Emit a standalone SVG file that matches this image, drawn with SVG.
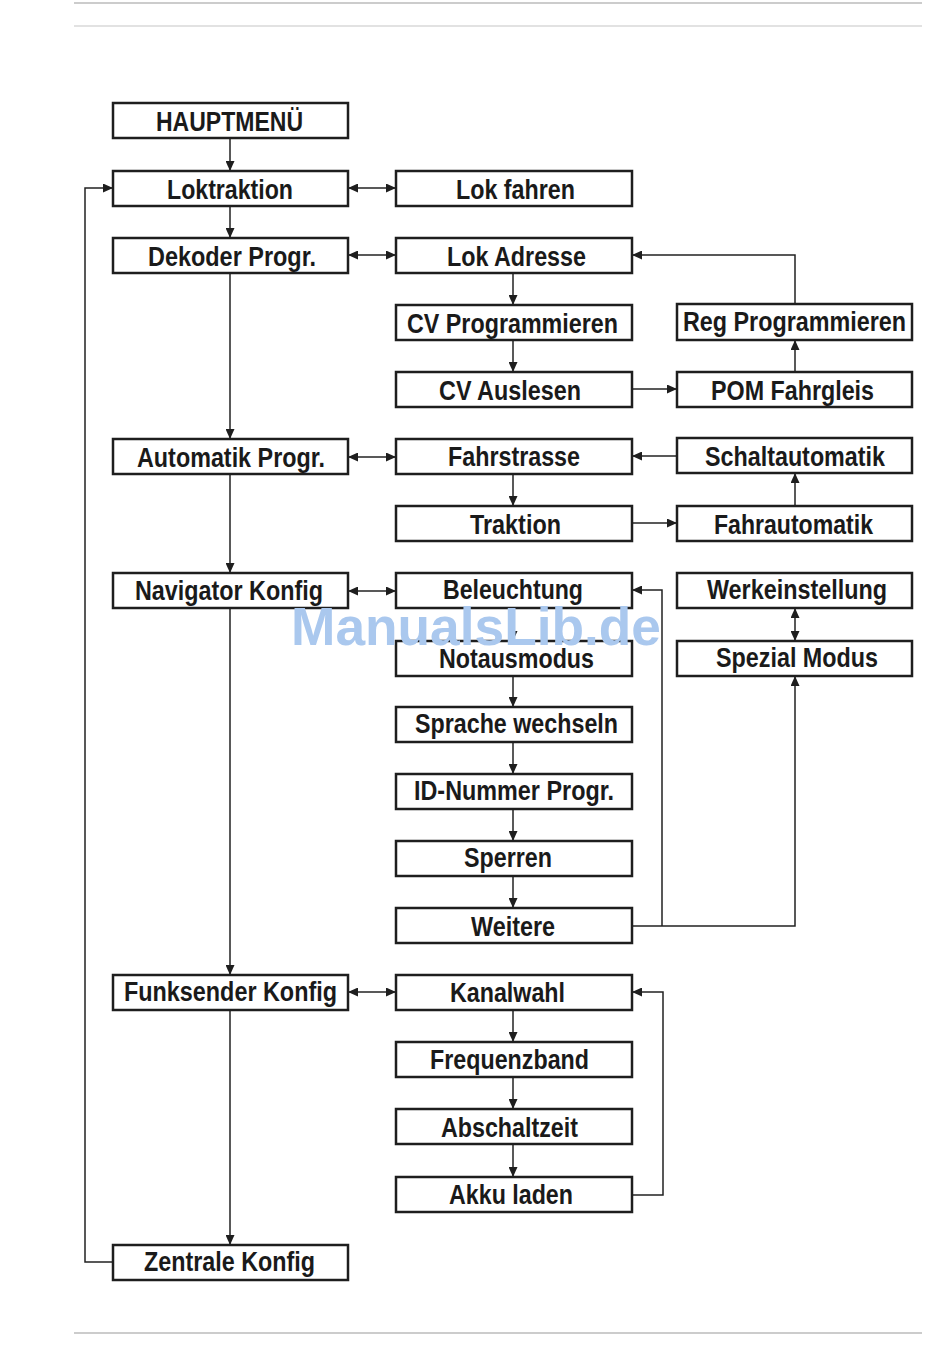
<svg xmlns="http://www.w3.org/2000/svg" width="950" height="1360" viewBox="0 0 950 1360">
<style>
.box{fill:#fff;stroke:#1e1e1e;stroke-width:2.5}
.lbl{font-family:"Liberation Sans",Arial,sans-serif;font-weight:bold;font-size:27px;fill:#1a1a1a}
.con{fill:none;stroke:#222;stroke-width:1.5}
.wm{font-family:"Liberation Sans",Arial,sans-serif;font-weight:bold;font-size:53px;fill:#aac8ee}
</style>
<defs>
<marker id="ah" markerUnits="userSpaceOnUse" markerWidth="10" markerHeight="9" refX="10" refY="4.5" orient="auto-start-reverse">
<path d="M0,0 L10,4.5 L0,9 z" fill="#1e1e1e"/>
</marker>
</defs>
<rect width="950" height="1360" fill="#fff"/>
<line x1="74" y1="3" x2="922" y2="3" stroke="#999" stroke-width="1.2"/>
<line x1="74" y1="26" x2="922" y2="26" stroke="#d9d9d9" stroke-width="1.5"/>
<line x1="74" y1="1333" x2="922" y2="1333" stroke="#999" stroke-width="1.2"/>

<g id="connectors">
<path class="con" marker-end="url(#ah)" d="M230,138 V171"/>
<path class="con" marker-end="url(#ah)" d="M230,206 V238"/>
<path class="con" marker-end="url(#ah)" d="M230,273 V439"/>
<path class="con" marker-end="url(#ah)" d="M230,474 V573"/>
<path class="con" marker-end="url(#ah)" d="M230,608 V975"/>
<path class="con" marker-end="url(#ah)" d="M230,1010 V1245"/>
<path class="con" marker-end="url(#ah)" d="M113,1262 H85 V188 H113"/>
<path class="con" marker-start="url(#ah)" marker-end="url(#ah)" d="M348,188 H396"/>
<path class="con" marker-start="url(#ah)" marker-end="url(#ah)" d="M348,255 H396"/>
<path class="con" marker-start="url(#ah)" marker-end="url(#ah)" d="M348,457 H396"/>
<path class="con" marker-start="url(#ah)" marker-end="url(#ah)" d="M348,591 H396"/>
<path class="con" marker-start="url(#ah)" marker-end="url(#ah)" d="M348,992 H396"/>
<path class="con" marker-end="url(#ah)" d="M513,273 V305"/>
<path class="con" marker-end="url(#ah)" d="M513,340 V372"/>
<path class="con" marker-end="url(#ah)" d="M632,389 H677"/>
<path class="con" marker-end="url(#ah)" d="M795,372 V340"/>
<path class="con" marker-end="url(#ah)" d="M795,304 V255 H632"/>
<path class="con" marker-end="url(#ah)" d="M513,474 V506"/>
<path class="con" marker-end="url(#ah)" d="M632,523 H677"/>
<path class="con" marker-end="url(#ah)" d="M795,506 V473"/>
<path class="con" marker-end="url(#ah)" d="M677,456 H632"/>
<path class="con" marker-end="url(#ah)" d="M513,608 V641"/>
<path class="con" marker-end="url(#ah)" d="M513,676 V707"/>
<path class="con" marker-end="url(#ah)" d="M513,742 V774"/>
<path class="con" marker-end="url(#ah)" d="M513,809 V841"/>
<path class="con" marker-end="url(#ah)" d="M513,876 V908"/>
<path class="con" marker-end="url(#ah)" d="M632,926 H795 V676"/>
<path class="con" marker-end="url(#ah)" d="M662,926 V590 H632"/>
<path class="con" marker-start="url(#ah)" marker-end="url(#ah)" d="M795,608 V641"/>
<path class="con" marker-end="url(#ah)" d="M513,1010 V1042"/>
<path class="con" marker-end="url(#ah)" d="M513,1077 V1109"/>
<path class="con" marker-end="url(#ah)" d="M513,1144 V1177"/>
<path class="con" marker-end="url(#ah)" d="M632,1195 H663 V992 H632"/>
</g>

<g id="hauptmenu"><rect class="box" x="113" y="103" width="235" height="35"/><text class="lbl" x="156" y="131" textLength="147" lengthAdjust="spacingAndGlyphs">HAUPTMENÜ</text></g>
<g id="loktraktion"><rect class="box" x="113" y="171" width="235" height="35"/><text class="lbl" x="167" y="199" textLength="126" lengthAdjust="spacingAndGlyphs">Loktraktion</text></g>
<g id="lok-fahren"><rect class="box" x="396" y="171" width="236" height="35"/><text class="lbl" x="456" y="199" textLength="119" lengthAdjust="spacingAndGlyphs">Lok fahren</text></g>
<g id="dekoder-progr"><rect class="box" x="113" y="238" width="235" height="35"/><text class="lbl" x="148" y="266" textLength="168" lengthAdjust="spacingAndGlyphs">Dekoder Progr.</text></g>
<g id="lok-adresse"><rect class="box" x="396" y="238" width="236" height="35"/><text class="lbl" x="447" y="266" textLength="139" lengthAdjust="spacingAndGlyphs">Lok Adresse</text></g>
<g id="cv-programmieren"><rect class="box" x="396" y="305" width="236" height="35"/><text class="lbl" x="407" y="333" textLength="211" lengthAdjust="spacingAndGlyphs">CV Programmieren</text></g>
<g id="reg-programmieren"><rect class="box" x="677" y="304" width="235" height="36"/><text class="lbl" x="683" y="331" textLength="223" lengthAdjust="spacingAndGlyphs">Reg Programmieren</text></g>
<g id="cv-auslesen"><rect class="box" x="396" y="372" width="236" height="35"/><text class="lbl" x="439" y="400" textLength="142" lengthAdjust="spacingAndGlyphs">CV Auslesen</text></g>
<g id="pom-fahrgleis"><rect class="box" x="677" y="372" width="235" height="35"/><text class="lbl" x="711" y="400" textLength="163" lengthAdjust="spacingAndGlyphs">POM Fahrgleis</text></g>
<g id="automatik-progr"><rect class="box" x="113" y="439" width="235" height="35"/><text class="lbl" x="137" y="467" textLength="188" lengthAdjust="spacingAndGlyphs">Automatik Progr.</text></g>
<g id="fahrstrasse"><rect class="box" x="396" y="439" width="236" height="35"/><text class="lbl" x="448" y="466" textLength="132" lengthAdjust="spacingAndGlyphs">Fahrstrasse</text></g>
<g id="schaltautomatik"><rect class="box" x="677" y="438" width="235" height="35"/><text class="lbl" x="705" y="466" textLength="180" lengthAdjust="spacingAndGlyphs">Schaltautomatik</text></g>
<g id="traktion"><rect class="box" x="396" y="506" width="236" height="35"/><text class="lbl" x="470" y="534" textLength="91" lengthAdjust="spacingAndGlyphs">Traktion</text></g>
<g id="fahrautomatik"><rect class="box" x="677" y="506" width="235" height="35"/><text class="lbl" x="714" y="534" textLength="159" lengthAdjust="spacingAndGlyphs">Fahrautomatik</text></g>
<g id="navigator-konfig"><rect class="box" x="113" y="573" width="235" height="35"/><text class="lbl" x="135" y="600" textLength="188" lengthAdjust="spacingAndGlyphs">Navigator Konfig</text></g>
<g id="beleuchtung"><rect class="box" x="396" y="573" width="236" height="35"/><text class="lbl" x="443" y="599" textLength="140" lengthAdjust="spacingAndGlyphs">Beleuchtung</text></g>
<g id="werkeinstellung"><rect class="box" x="677" y="573" width="235" height="35"/><text class="lbl" x="707" y="599" textLength="180" lengthAdjust="spacingAndGlyphs">Werkeinstellung</text></g>
<g id="notausmodus"><rect class="box" x="396" y="641" width="236" height="35"/><text class="lbl" x="439" y="668" textLength="155" lengthAdjust="spacingAndGlyphs">Notausmodus</text></g>
<g id="spezial-modus"><rect class="box" x="677" y="641" width="235" height="35"/><text class="lbl" x="716" y="667" textLength="162" lengthAdjust="spacingAndGlyphs">Spezial Modus</text></g>
<g id="sprache-wechseln"><rect class="box" x="396" y="707" width="236" height="35"/><text class="lbl" x="415" y="733" textLength="203" lengthAdjust="spacingAndGlyphs">Sprache wechseln</text></g>
<g id="id-nummer-progr"><rect class="box" x="396" y="774" width="236" height="35"/><text class="lbl" x="414" y="800" textLength="200" lengthAdjust="spacingAndGlyphs">ID-Nummer Progr.</text></g>
<g id="sperren"><rect class="box" x="396" y="841" width="236" height="35"/><text class="lbl" x="464" y="867" textLength="88" lengthAdjust="spacingAndGlyphs">Sperren</text></g>
<g id="weitere"><rect class="box" x="396" y="908" width="236" height="35"/><text class="lbl" x="471" y="936" textLength="84" lengthAdjust="spacingAndGlyphs">Weitere</text></g>
<g id="funksender-konfig"><rect class="box" x="113" y="975" width="235" height="35"/><text class="lbl" x="124" y="1001" textLength="213" lengthAdjust="spacingAndGlyphs">Funksender Konfig</text></g>
<g id="kanalwahl"><rect class="box" x="396" y="975" width="236" height="35"/><text class="lbl" x="450" y="1002" textLength="115" lengthAdjust="spacingAndGlyphs">Kanalwahl</text></g>
<g id="frequenzband"><rect class="box" x="396" y="1042" width="236" height="35"/><text class="lbl" x="430" y="1069" textLength="159" lengthAdjust="spacingAndGlyphs">Frequenzband</text></g>
<g id="abschaltzeit"><rect class="box" x="396" y="1109" width="236" height="35"/><text class="lbl" x="441" y="1137" textLength="137" lengthAdjust="spacingAndGlyphs">Abschaltzeit</text></g>
<g id="akku-laden"><rect class="box" x="396" y="1177" width="236" height="35"/><text class="lbl" x="449" y="1204" textLength="124" lengthAdjust="spacingAndGlyphs">Akku laden</text></g>
<g id="zentrale-konfig"><rect class="box" x="113" y="1245" width="235" height="35"/><text class="lbl" x="144" y="1271" textLength="171" lengthAdjust="spacingAndGlyphs">Zentrale Konfig</text></g>

<text class="wm" x="291" y="645" textLength="370" lengthAdjust="spacingAndGlyphs">ManualsLib.de</text>
</svg>
